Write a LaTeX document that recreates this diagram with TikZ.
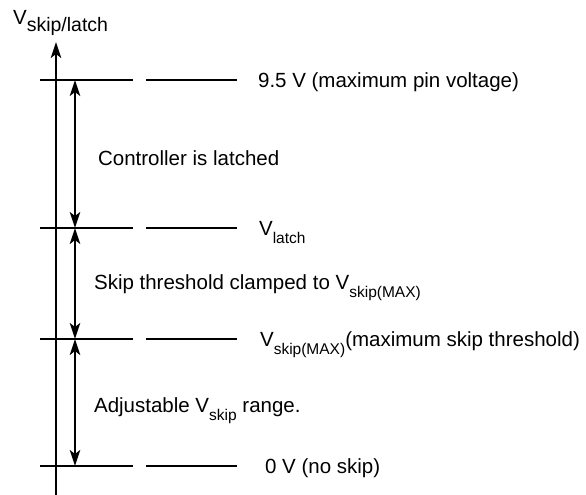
\documentclass[tikz,border=0pt]{standalone}
\usepackage{fontspec}
\setmainfont{Liberation Sans}
\usetikzlibrary{arrows.meta}
\newcommand{\lowsub}[1]{\raisebox{-8pt}{\fontsize{15.5}{18}\selectfont #1}}
\newcommand{\bigsub}[1]{\raisebox{-7pt}{\fontsize{19.5}{21}\selectfont #1}}

\begin{document}
\begin{tikzpicture}[x=1pt,y=-1pt,line join=round,line width=2.2pt,>={Stealth[length=16pt,width=10.5pt,inset=4pt]}]
	\tikzset{every node/.style={font=\fontsize{20.5}{25}\selectfont,inner sep=0pt,anchor=base west}}
	\useasboundingbox (0,0) rectangle (586,495);
	% level lines
	\foreach \y/\nm in {80/top,228/latch,339/max,466/zero}{
		\draw (40,\y) -- (133,\y);
		\draw (146,\y) -- (237,\y);
		\coordinate (\nm) at (75,\y);
	}
	\coordinate (axbot) at (56,495);
	\coordinate (axtop) at (56,42);
	\draw[->] (axbot) -- (axtop);
	\node (axlabel) at (12,25) {V\bigsub{skip/latch}};
	\draw[<->] (top) -- (latch);
	\draw[<->] (latch) -- (max);
	\draw[<->] (max) -- (zero);
	% texts
	\node (vmax) at (257,88) {9.5 V (maximum pin voltage)};
	\node (latched) at (97,165) {Controller is latched};
	\node (vlatch) at (258,235) {V\lowsub{latch}};
	\node (clamp) at (93,289) {Skip threshold clamped to V\lowsub{skip(MAX)}};
	\node (vskipmax) at (259,346) {V\lowsub{skip(MAX)}(maximum skip threshold)};
	\node (adj) at (93,412) {Adjustable V\lowsub{skip} range.};
	\node (zerov) at (264,473) {0 V (no skip)};
\end{tikzpicture}
\end{document}
